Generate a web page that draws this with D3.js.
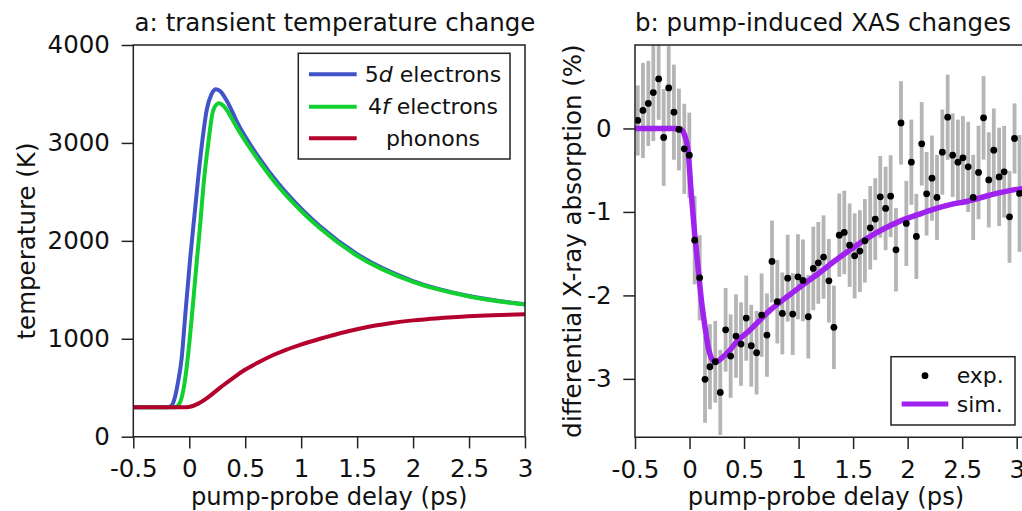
<!DOCTYPE html>
<html><head><meta charset="utf-8">
<script src="https://cdn.jsdelivr.net/npm/d3@7"></script>
<style>
body{margin:0;background:#fff}
svg{display:block}
text{font-family:"DejaVu Sans",sans-serif;fill:#111}
</style>
</head><body>
<svg id="c" width="1022" height="511"></svg>
<script>
// ---------- data: panel a (temperatures, K) ----------
const d5Time = [-0.5,-0.2,-0.16,-0.127,-0.1,-0.068,-0.038,0.007,0.05,0.081,0.12,0.156,0.2,0.239,0.28,0.33,0.38,0.424,0.5,0.632,0.8,1.0,1.168,1.5,2.0,2.5,3.0];
const d5Temp = [300,300,315,408,560,800,1209,1805,2300,2656,3050,3337,3500,3548,3525,3440,3330,3220,3065,2835,2580,2330,2150,1865,1590,1437,1352];
const f4Time = [-0.5,-0.13,-0.1,-0.07,-0.038,0.0,0.022,0.06,0.096,0.13,0.17,0.215,0.266,0.32,0.38,0.424,0.5,0.632,0.8,1.0,1.168,1.5,2.0,2.5,3.0];
const f4Temp = [300,300,318,390,579,950,1212,1700,2145,2600,2997,3337,3405,3360,3250,3160,3020,2800,2550,2305,2128,1848,1580,1432,1350];
const phTime = [-0.5,-0.05,0.007,0.08,0.156,0.23,0.304,0.4,0.498,0.62,0.751,0.87,0.99,1.17,1.347,1.55,1.794,2.0,2.24,2.6,3.0];
const phTemp = [300,300,306,338,392,458,525,607,683,760,834,890,937,1000,1056,1110,1158,1188,1211,1234,1250];

// ---------- data: panel b (differential XAS, %) ----------
const expDelay = [-0.475,-0.427,-0.378,-0.332,-0.283,-0.237,-0.191,-0.143,-0.097,-0.048,-0.002,
  0.047,0.093,0.142,0.187,0.236,0.282,0.331,0.377,0.426,0.472,0.520,0.566,0.615,0.661,0.710,
  0.756,0.805,0.851,0.900,0.946,0.994,1.040,1.089,1.135,1.181,1.229,1.278,1.324,1.373,1.419,
  1.468,1.514,1.562,1.608,1.657,1.703,1.749,1.798,1.844,1.893,1.939,1.988,2.034,2.080,2.129,
  2.174,2.223,2.269,2.318,2.367,2.413,2.461,2.507,2.555,2.601,2.650,2.696,2.744,2.790,2.839,
  2.885,2.934,2.980,3.026];
const expValue = [0.096,0.216,0.30,0.43,0.594,-0.108,0.486,0.195,-0.012,-0.244,-0.32,
  -1.338,-1.789,-3.006,-2.855,-2.795,-3.162,-2.412,-2.727,-2.487,-2.583,-2.272,-2.603,-2.687,-2.236,-2.475,
  -1.593,-2.076,-2.216,-1.793,-2.224,-1.777,-1.820,-2.256,-1.677,-1.610,-1.541,-1.825,-2.383,-1.278,-1.246,
  -1.398,-1.526,-1.469,-1.346,-1.190,-1.086,-0.819,-0.958,-0.811,-1.454,0.067,-1.138,-0.404,-1.293,-0.184,
  -0.783,-0.595,-0.826,-0.284,0.135,-0.320,-0.404,-0.352,-0.460,-0.826,-0.527,0.127,-0.616,-0.260,-0.580,
  -0.520,-1.059,-0.120,-0.778];
const expError = [0.42,0.57,0.51,0.58,0.49,0.58,0.50,0.57,0.49,0.54,0.51,
  0.53,0.51,0.52,0.51,0.49,0.51,0.50,0.50,0.50,0.50,0.51,0.49,0.50,0.50,0.50,
  0.49,0.50,0.49,0.52,0.49,0.51,0.49,0.50,0.50,0.49,0.50,0.50,0.50,0.50,0.50,
  0.50,0.51,0.49,0.50,0.50,0.49,0.49,0.50,0.49,0.50,0.50,0.51,0.51,0.51,0.50,
  0.50,0.51,0.51,0.51,0.51,0.50,0.51,0.50,0.54,0.51,0.56,0.50,0.57,0.50,0.59,
  0.55,0.55,0.42,0.70];
const simDelay = [-0.5,-0.12,-0.08,-0.045,-0.014,0.016,0.047,0.078,0.109,0.142,0.171,0.21,0.242,0.309,0.371,0.432,0.55,0.737,0.9,1.012,1.2,1.318,1.5,1.624,1.8,1.93,2.1,2.234,2.4,2.54,2.75,3.0,3.06];
const simValue = [0,0,-0.01,-0.08,-0.26,-0.78,-1.26,-1.66,-2.06,-2.38,-2.62,-2.77,-2.795,-2.735,-2.655,-2.556,-2.42,-2.18,-2.01,-1.90,-1.72,-1.60,-1.43,-1.32,-1.19,-1.11,-1.03,-0.97,-0.91,-0.875,-0.80,-0.73,-0.72];

// ---------- ticks ----------
const delayTicks = [-0.5,0,0.5,1,1.5,2,2.5,3];
const delayMinor = d3.range(-5,31).map(i=>i/10).filter(v=>!delayTicks.some(t=>Math.abs(t-v)<1e-9));
const tempTicks = [0,1000,2000,3000,4000];
const tempMinor = d3.range(0,4001,200).filter(v=>v%1000!==0);
const xasTicks = [0,-1,-2,-3];
const xasMinor = d3.range(-14,5).map(i=>i/4).filter(v=>!Number.isInteger(v));

const svg = d3.select("#c");
const FS = 24.5;
const fmt = d => String(d);

function drawAxes(g, x, y, xMaj, xMin, yMaj, yMin, x0, x1, y0, y1){
  const ax = g.append("g").attr("transform",`translate(0,${y1})`);
  ax.call(d3.axisBottom(x).tickValues(xMin).tickSize(6.7).tickFormat(""));
  ax.selectAll("text").remove();
  ax.call(d3.axisBottom(x).tickValues(xMaj).tickSize(11.7).tickPadding(11.3).tickFormat(fmt));
  const ay = g.append("g").attr("transform",`translate(${x0},0)`);
  ay.call(d3.axisLeft(y).tickValues(yMin).tickSize(6.7).tickFormat(""));
  ay.selectAll("text").remove();
  ay.call(d3.axisLeft(y).tickValues(yMaj).tickSize(11.7).tickPadding(11.7).tickFormat(fmt));
  g.selectAll(".domain").remove();
  g.selectAll(".tick line").attr("stroke","#222").attr("stroke-width",1.5);
  g.selectAll(".tick text").style("font-size",FS+"px").style("font-family","'DejaVu Sans',sans-serif").attr("fill","#111");
  g.append("path").attr("d",`M${x0},${y1}V${y0}H${x1}V${y1}Z`).attr("fill","none").attr("stroke","#222").attr("stroke-width",1.5);
}

// ---------- panel a ----------
{
  const x0=133.3, x1=525, y0=45, y1=436.7;
  const x = d3.scaleLinear().domain([-0.5,3]).range([x0,x1]);
  const y = d3.scaleLinear().domain([0,4000]).range([y1,y0]);
  const g = svg.append("g");
  const line = d3.line().x(d=>x(d[0])).y(d=>y(d[1])).curve(d3.curveMonotoneX);
  const series = [
    {t:d5Time, v:d5Temp, c:"#4053c8"},
    {t:f4Time, v:f4Temp, c:"#12d030"},
    {t:phTime, v:phTemp, c:"#b3002d"}
  ];
  series.forEach(s=>{
    g.append("path").datum(s.t.map((t,i)=>[t,s.v[i]])).attr("d",line)
      .attr("fill","none").attr("stroke",s.c).attr("stroke-width",4);
  });
  drawAxes(g,x,y,delayTicks,delayMinor,tempTicks,tempMinor,x0,x1,y0,y1);
  const L = g.append("g");
  L.append("rect").attr("x",298.3).attr("y",53.3).attr("width",211.7).attr("height",105.7)
    .attr("fill","#fff").attr("stroke","#222").attr("stroke-width",1.5);
  const rows = [
    {y:74.3,c:"#4053c8",a:"5",i:"d",b:" electrons"},
    {y:106.7,c:"#12d030",a:"4",i:"f",b:" electrons"},
    {y:138.3,c:"#b3002d",a:"phonons",i:"",b:""}
  ];
  rows.forEach(r=>{
    L.append("line").attr("x1",309).attr("x2",356.7).attr("y1",r.y).attr("y2",r.y).attr("stroke",r.c).attr("stroke-width",4);
    const t = L.append("text").attr("x",433).attr("y",r.y).attr("dy","0.35em").attr("text-anchor","middle").style("font-size","22px");
    t.append("tspan").text(r.a);
    if(r.i) t.append("tspan").style("font-style","italic").text(r.i);
    if(r.b) t.append("tspan").text(r.b);
  });
  g.append("text").attr("x",335).attr("y",31).attr("text-anchor","middle").style("font-size",FS+"px").text("a: transient temperature change");
  g.append("text").attr("transform","translate(26,241) rotate(-90)").attr("text-anchor","middle").attr("dy","0.35em").style("font-size",FS+"px").text("temperature (K)");
  g.append("text").attr("x",(x0+x1)/2).attr("y",505.2).attr("text-anchor","middle").style("font-size","24.2px").text("pump-probe delay (ps)");
}

// ---------- panel b ----------
{
  const x0=635, x1=1030, y0=45, y1=437.3;
  const x = d3.scaleLinear().domain([-0.5,3]).range([x0,1016.7]);
  const y = d3.scaleLinear().domain([-3.7,1.0]).range([y1,y0]);
  const g = svg.append("g");
  svg.append("defs").append("clipPath").attr("id","clipB").append("rect")
    .attr("x",x0).attr("y",y0).attr("width",x1-x0).attr("height",y1-y0);
  const p = g.append("g").attr("clip-path","url(#clipB)");
  p.selectAll("rect.err").data(expDelay).join("rect").attr("class","err")
    .attr("x",(d)=>x(d)-1.9).attr("width",3.8)
    .attr("y",(d,i)=>y(expValue[i]+expError[i]))
    .attr("height",(d,i)=>y(expValue[i]-expError[i])-y(expValue[i]+expError[i]))
    .attr("fill","#b5b5b5");
  const line = d3.line().x(d=>x(d[0])).y(d=>y(d[1])).curve(d3.curveMonotoneX);
  p.append("path").datum(simDelay.map((t,i)=>[t,simValue[i]])).attr("d",line)
    .attr("fill","none").attr("stroke","#a022ee").attr("stroke-width",5.5);
  p.selectAll("circle.pt").data(expDelay).join("circle").attr("class","pt")
    .attr("cx",d=>x(d)).attr("cy",(d,i)=>y(expValue[i])).attr("r",3.4).attr("fill","#000");
  drawAxes(g,x,y,delayTicks,delayMinor,xasTicks,xasMinor,x0,x1,y0,y1);
  const L = g.append("g");
  L.append("rect").attr("x",891).attr("y",356.7).attr("width",124).attr("height",68.3)
    .attr("fill","#fff").attr("stroke","#222").attr("stroke-width",1.5);
  L.append("circle").attr("cx",925).attr("cy",375.7).attr("r",3.4).attr("fill","#000");
  L.append("line").attr("x1",901.7).attr("x2",948.3).attr("y1",404).attr("y2",404).attr("stroke","#a022ee").attr("stroke-width",5);
  L.append("text").attr("x",956.7).attr("y",375.7).attr("dy","0.35em").style("font-size","22px").text("exp.");
  L.append("text").attr("x",956.7).attr("y",404).attr("dy","0.35em").style("font-size","22px").text("sim.");
  g.append("text").attr("x",823).attr("y",31).attr("text-anchor","middle").style("font-size",FS+"px").text("b: pump-induced XAS changes");
  g.append("text").attr("transform","translate(572,241) rotate(-90)").attr("text-anchor","middle").attr("dy","0.35em").style("font-size",FS+"px").text("differential X-ray absorption (%)");
  g.append("text").attr("x",826).attr("y",505.2).attr("text-anchor","middle").style("font-size","24.2px").text("pump-probe delay (ps)");
}
</script>
</body></html>
